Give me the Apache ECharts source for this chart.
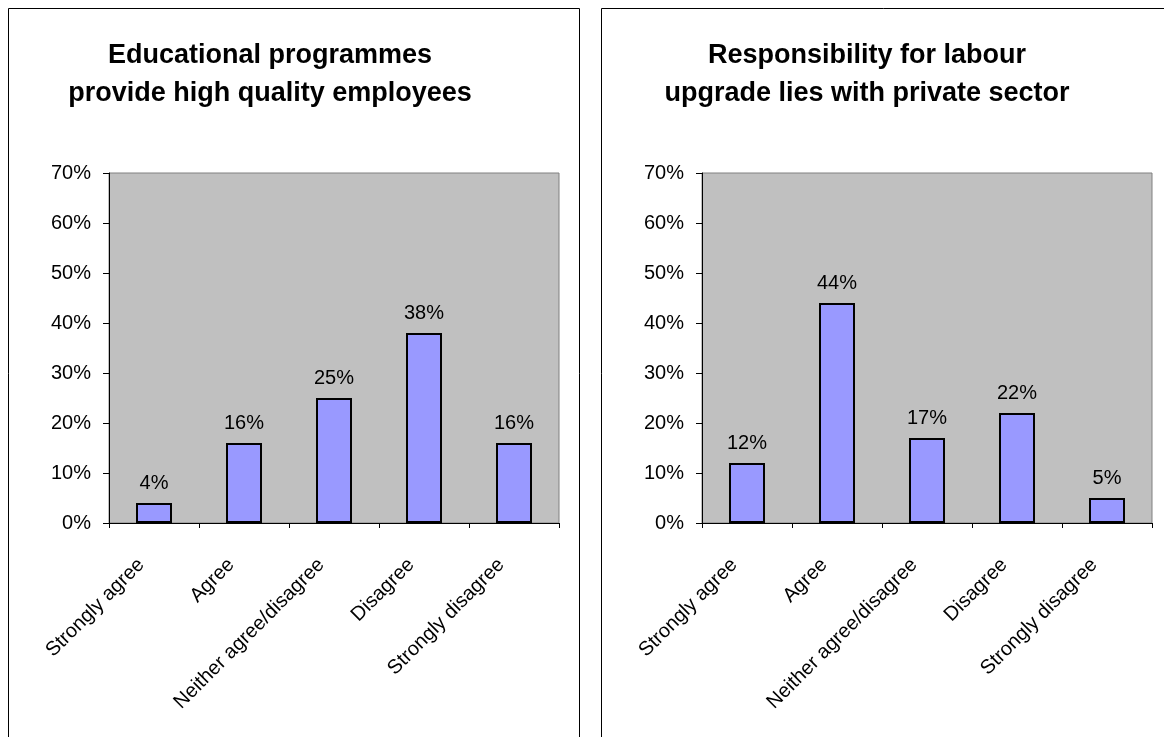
<!DOCTYPE html>
<html>
<head>
<meta charset="utf-8">
<style>
  html, body { margin: 0; padding: 0; background: #fff; }
  #chart { width: 1164px; height: 737px; }
</style>
<script src="https://cdn.jsdelivr.net/npm/echarts@6/dist/echarts.min.js"></script>
</head>
<body>
<div id="chart"></div>
<script>
// Survey answer categories shared by both panels
const categories = ['Strongly agree', 'Agree', 'Neither agree/disagree', 'Disagree', 'Strongly disagree'];

// Share of respondents (%) per answer
const educationValues = [4, 16, 25, 38, 16];
const responsibilityValues = [12, 44, 17, 22, 5];

// Percentage ticks on the value axis
const yTicks = [0, 10, 20, 30, 40, 50, 60, 70];

const titleLeft = 'Educational programmes\nprovide high quality employees';
const titleRight = 'Responsibility for labour\nupgrade lies with private sector';

const FONT = '"Liberation Sans", Arial, sans-serif';

const chart = echarts.init(document.getElementById('chart'), null, { renderer: 'canvas' });

function xAxisFor(gridIndex) {
  return {
    type: 'category',
    gridIndex: gridIndex,
    data: categories,
    boundaryGap: true,
    axisLine: { show: true, lineStyle: { color: '#000', width: 1 } },
    axisTick: { show: true, length: 5, lineStyle: { color: '#000' } },
    axisLabel: {
      rotate: 45,
      interval: 0,
      margin: 26,
      padding: [0, 18, 0, 0],
      color: '#000',
      fontFamily: FONT,
      fontSize: 20
    },
    splitLine: { show: false }
  };
}

function yAxisFor(gridIndex) {
  return {
    type: 'value',
    gridIndex: gridIndex,
    min: yTicks[0],
    max: yTicks[yTicks.length - 1],
    interval: yTicks[1] - yTicks[0],
    axisLine: { show: true, lineStyle: { color: '#000', width: 1 } },
    axisTick: { show: true, length: 6, lineStyle: { color: '#000' } },
    axisLabel: {
      formatter: '{value}%',
      margin: 18,
      color: '#000',
      fontFamily: FONT,
      fontSize: 20,
      padding: [4, 0, 0, 0]
    },
    splitLine: { show: false }
  };
}

function barSeries(index, values) {
  return {
    type: 'bar',
    xAxisIndex: index,
    yAxisIndex: index,
    data: values,
    barWidth: 36,
    itemStyle: { color: '#9999FF', borderColor: '#000', borderWidth: 2 },
    label: {
      show: true,
      position: 'top',
      distance: 10,
      formatter: '{c}%',
      color: '#000',
      fontFamily: FONT,
      fontSize: 20
    },
    emphasis: { disabled: true },
    animation: false
  };
}

const gridStyle = {
  show: true,
  backgroundColor: '#C0C0C0',
  borderColor: '#808080',
  borderWidth: 1,
  containLabel: false
};

chart.setOption({
  animation: false,
  grid: [
    Object.assign({ left: 109, top: 173, width: 450, height: 350 }, gridStyle),
    Object.assign({ left: 702, top: 173, width: 450, height: 350 }, gridStyle)
  ],
  xAxis: [xAxisFor(0), xAxisFor(1)],
  yAxis: [yAxisFor(0), yAxisFor(1)],
  series: [barSeries(0, educationValues), barSeries(1, responsibilityValues)],
  graphic: [
    // panel frames
    {
      type: 'rect', silent: true, z: -1,
      shape: { x: 8.5, y: 8.5, width: 571, height: 760 },
      style: { fill: null, stroke: '#000', lineWidth: 1 }
    },
    {
      type: 'rect', silent: true, z: -1,
      shape: { x: 601.5, y: 8.5, width: 600, height: 760 },
      style: { fill: null, stroke: '#000', lineWidth: 1 }
    },
    // panel titles
    {
      type: 'text', silent: true, x: 270, y: 37,
      style: {
        text: titleLeft, fill: '#000',
        font: 'bold 27px ' + FONT,
        textAlign: 'center', textVerticalAlign: 'top', lineHeight: 38
      }
    },
    {
      type: 'text', silent: true, x: 867, y: 37,
      style: {
        text: titleRight, fill: '#000',
        font: 'bold 27px ' + FONT,
        textAlign: 'center', textVerticalAlign: 'top', lineHeight: 38
      }
    }
  ]
});
</script>
</body>
</html>
